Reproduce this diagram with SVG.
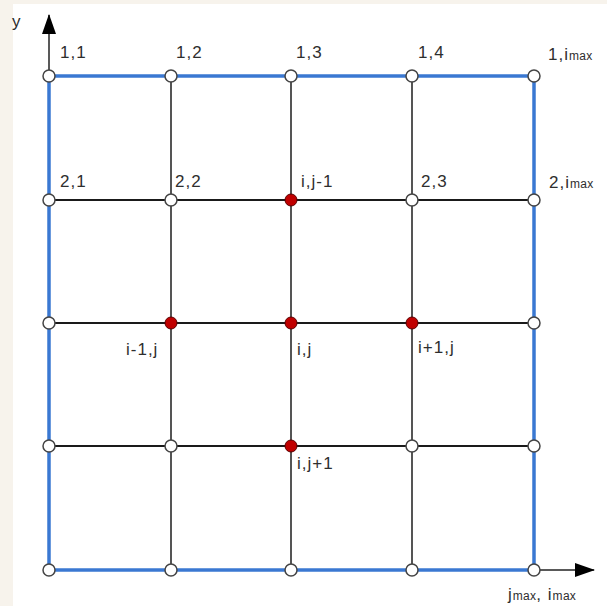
<svg xmlns="http://www.w3.org/2000/svg" width="607" height="606" viewBox="0 0 607 606">
<defs>
<marker id="ah2" viewBox="0 0 20 14" refX="19" refY="7" markerWidth="20" markerHeight="14" markerUnits="userSpaceOnUse" orient="auto"><path d="M0,0 L20,7 L0,14 Z" fill="#000"/></marker>
</defs>
<style>
.bg{fill:#f7f3ec}
.lbl{font-family:"Liberation Sans",Arial,sans-serif;font-size:17px;fill:#2e2e2e;letter-spacing:1px}
.sub{font-size:12px;letter-spacing:0.3px}
.blue{stroke:#3a78d2;stroke-width:3.5;fill:none}
.v{stroke:#555;stroke-width:2;fill:none}
.h{stroke:#1a1a1a;stroke-width:2;fill:none}
.axis{stroke:#222;stroke-width:1.5;fill:none}
.n{fill:#fff;stroke:#444;stroke-width:1.5}
.r{fill:#c00000;stroke:#5a0000;stroke-width:1}
</style>
<rect class="bg" x="0" y="0" width="607" height="606"/>
<rect x="13" y="4" width="594" height="602" fill="#fff"/>
<g id="connectors">
<line class="axis" x1="49" y1="76" x2="49" y2="15" marker-end="url(#ah2)"/>
<line class="axis" x1="534" y1="570" x2="594" y2="570" marker-end="url(#ah2)"/>
<line class="v" x1="171" y1="76" x2="171" y2="570"/>
<line class="v" x1="291" y1="76" x2="291" y2="570"/>
<line class="v" x1="412" y1="76" x2="412" y2="570"/>
<line class="h" x1="49" y1="200" x2="534" y2="200"/>
<line class="h" x1="49" y1="323" x2="534" y2="323" stroke-width="2.5"/>
<line class="h" x1="49" y1="446" x2="534" y2="446" stroke="#333" stroke-width="1.5"/>
<line class="blue" x1="49" y1="76" x2="534" y2="76"/>
<line class="blue" x1="49" y1="570" x2="534" y2="570"/>
<line class="blue" x1="49" y1="76" x2="49" y2="570"/>
<line class="blue" x1="534" y1="76" x2="534" y2="570"/>
</g>
<g id="nodes">
<g id="row1"><circle class="n" cx="49" cy="76" r="6"/><circle class="n" cx="171" cy="76" r="6"/><circle class="n" cx="291" cy="76" r="6"/><circle class="n" cx="412" cy="76" r="6"/><circle class="n" cx="534" cy="76" r="6"/></g>
<g id="row2"><circle class="n" cx="49" cy="200" r="6"/><circle class="n" cx="171" cy="200" r="6"/><circle class="r" cx="291" cy="200" r="6"/><circle class="n" cx="412" cy="200" r="6"/><circle class="n" cx="534" cy="200" r="6"/></g>
<g id="row3"><circle class="n" cx="49" cy="323" r="6"/><circle class="r" cx="171" cy="323" r="6"/><circle class="r" cx="291" cy="323" r="6"/><circle class="r" cx="412" cy="323" r="6"/><circle class="n" cx="534" cy="323" r="6"/></g>
<g id="row4"><circle class="n" cx="49" cy="446" r="6"/><circle class="n" cx="171" cy="446" r="6"/><circle class="r" cx="291" cy="446" r="6"/><circle class="n" cx="412" cy="446" r="6"/><circle class="n" cx="534" cy="446" r="6"/></g>
<g id="row5"><circle class="n" cx="49" cy="570" r="6"/><circle class="n" cx="171" cy="570" r="6"/><circle class="n" cx="291" cy="570" r="6"/><circle class="n" cx="412" cy="570" r="6"/><circle class="n" cx="534" cy="570" r="6"/></g>
</g>
<g id="labels">
<text class="lbl" x="12" y="27">y</text>
<text class="lbl" x="60" y="58">1,1</text>
<text class="lbl" x="176" y="58">1,2</text>
<text class="lbl" x="296" y="58">1,3</text>
<text class="lbl" x="418" y="58">1,4</text>
<text class="lbl" x="548" y="60">1,i<tspan class="sub">max</tspan></text>
<text class="lbl" x="60" y="187">2,1</text>
<text class="lbl" x="175" y="187">2,2</text>
<text class="lbl" x="301" y="187">i,j-1</text>
<text class="lbl" x="421" y="187">2,3</text>
<text class="lbl" x="549" y="188">2,i<tspan class="sub">max</tspan></text>
<text class="lbl" x="126" y="355">i-1,j</text>
<text class="lbl" x="297" y="355">i,j</text>
<text class="lbl" x="418" y="353">i+1,j</text>
<text class="lbl" x="297" y="469">i,j+1</text>
<text class="lbl" x="508" y="600">j<tspan class="sub">max</tspan>, i<tspan class="sub">max</tspan></text>
</g>
</svg>
